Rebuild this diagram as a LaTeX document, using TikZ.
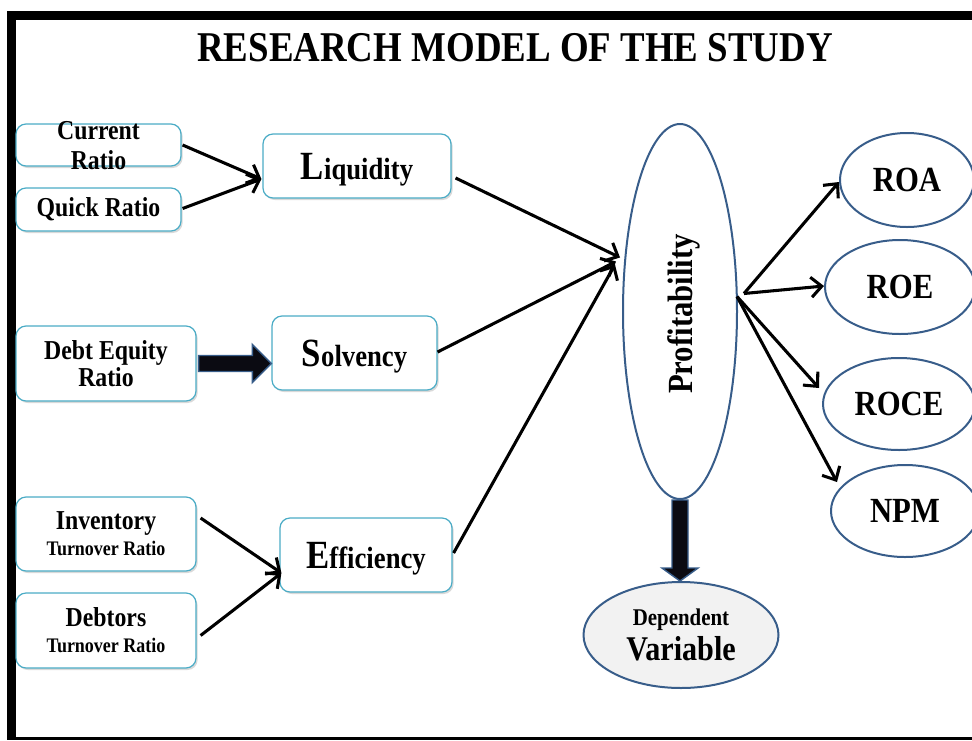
\documentclass[tikz,border=0pt]{standalone}
\usepackage{fontspec}
\setmainfont{Liberation Serif}[FakeStretch=0.87]
\usetikzlibrary{arrows.meta,calc,shadows,shapes.geometric}
\definecolor{boxline}{HTML}{4BACC6}
\definecolor{ovalline}{HTML}{385D8A}
\definecolor{ovalfill}{HTML}{F2F2F2}
\definecolor{blockfill}{HTML}{0B0B12}
\newcommand\titlefont{\fontsize{31.8}{34}\selectfont\bfseries}
\newcommand\ratiofont{\fontsize{20.5}{21.5}\selectfont\bfseries}
\newcommand\turnfont{\fontsize{15.5}{19}\selectfont\bfseries}
\newcommand\groupfont{\fontsize{23}{25}\selectfont\bfseries}
\newcommand\capfont{\fontsize{30}{32}\selectfont}
\newcommand\ovalfont{\fontsize{26.5}{28}\selectfont\bfseries}
\begin{document}
\begin{tikzpicture}[x=0.75pt,y=-0.75pt,
  ratiobox/.style 2 args={draw=boxline,line width=0.9pt,rounded corners=7.5pt,fill=white,
    drop shadow={shadow xshift=1.2pt,shadow yshift=-1.5pt,opacity=0.3},
    minimum width=#1*0.75pt,minimum height=#2*0.75pt,inner sep=0pt,align=center},
  groupbox/.style 2 args={ratiobox={#1}{#2},text depth=0pt},
  turnbox/.style 2 args={ratiobox={#1}{#2},font=\fontsize{15.5}{19.5}\selectfont\bfseries},
  oval/.style 2 args={ellipse,draw=ovalline,line width=1.5pt,fill=white,
    minimum width=#1*0.75pt,minimum height=#2*0.75pt,inner sep=0pt,align=center},
  link/.style={line width=2.3pt,-{Straight Barb[length=8pt,width=15pt,line width=2.3pt]}},
  block/.style={fill=blockfill,draw=ovalline,line width=1.1pt,line join=miter}]%
% page frame, pixel units
\useasboundingbox (0,0) rectangle (972,740);
\clip (0,0) rectangle (972,740);
\fill (7,11) rectangle (972,20);
\fill (7,11) rectangle (16,740);
\fill (7,737) rectangle (972,739.5);
\node[font=\titlefont] (title) at (515,48) {RESEARCH MODEL OF THE STUDY};
% ratio boxes
\node[ratiobox={165}{42}] (cr) at (98.5,145) {};
\node[font=\ratiofont,align=center] (crtext) at ($(cr.center)+(0,1)$) {Current\\[1pt]Ratio};
\node[ratiobox={165}{43}] (qr) at (98.5,209.5) {\ratiofont Quick Ratio};
\node[ratiobox={180}{75}] (de) at (106,363.5) {\ratiofont Debt Equity\\[0.5pt]\ratiofont Ratio};
\node[turnbox={180}{74}] (inv) at (106,534) {{\ratiofont Inventory}\\{Turnover Ratio}};
\node[turnbox={180}{75}] (deb) at (106,630.5) {{\ratiofont Debtors}\\{Turnover Ratio}};
\node[groupbox={188}{64}] (liq) at (357,166) {\groupfont{\capfont L}iquidity};
\node[groupbox={165}{74}] (sol) at (354.5,353) {\groupfont{\capfont S}olvency};
\node[groupbox={172}{74}] (eff) at (366,555) {\groupfont{\capfont E}fficiency};
% ovals
\node[oval={114}{375}] (prof) at (680,311.5) {};
\node[font=\ovalfont,rotate=90] (proftext) at (684,314) {Profitability};
\node[oval={134}{94}] (roa) at (907,180) {\ovalfont ROA};
\node[oval={150}{94}] (roe) at (900,287) {\ovalfont ROE};
\node[oval={152}{92}] (roce) at (899,404) {\ovalfont ROCE};
\node[oval={148}{92}] (npm) at (905,511) {\ovalfont NPM};
\node[oval={195}{106},fill=ovalfill] (dep) at (681,635)
  {\fontsize{18}{22}\selectfont\bfseries Dependent\\[3pt]\fontsize{26}{26}\selectfont\bfseries Variable};
% block arrows
\coordinate (detip) at (de.east -| sol.west);
\draw[block] ($(de.east)+(2,-8)$) -- ($(detip)+(-19,-8)$) -- ($(detip)+(-19,-19)$)
 -- (detip) -- ($(detip)+(-19,19)$) -- ($(detip)+(-19,8)$) -- ($(de.east)+(2,8)$) -- cycle;
\coordinate (deptip) at (prof.south |- dep.north);
\draw[block] ($(prof.south)+(-8,0)$) -- ($(deptip)+(-8,-13)$) -- ($(deptip)+(-18,-13)$)
 -- (deptip) -- ($(deptip)+(18,-13)$) -- ($(deptip)+(8,-13)$) -- ($(prof.south)+(8,0)$) -- cycle;
% links
\draw[link] ($(cr.east)+(1,0)$) -- ($(liq.west)+(-1,13)$);
\draw[link] ($(qr.east)+(1,-1)$) -- ($(liq.west)+(-1,13)$);
\draw[link] ($(inv.east)+(4,-16)$) -- ($(eff.west)+(2,18)$);
\draw[link] ($(deb.east)+(4,5)$) -- ($(eff.west)+(2,18)$);
\draw[link] ($(liq.east)+(4,12)$) -- ($(prof.west)+(-2,-54)$);
\draw[link] ($(sol.east)+(0,-1)$) -- ($(prof.west)+(-6,-50)$);
\draw[link] ($(eff.east)+(1,-2)$) -- ($(prof.west)+(-7,-47)$);
\draw[link] ($(prof.east)+(6,-18)$) -- ($(roa.west)+(0,2)$);
\draw[link] ($(prof.east)+(6,-18)$) -- ($(roe.west)+(0,-1)$);
\draw[link] ($(prof.east)+(-1,-15)$) -- ($(roce.west)+(-3,-16)$);
\draw[link] ($(prof.east)+(-1,-15)$) -- ($(npm.west)+(7,-29)$);
\end{tikzpicture}
\end{document}
